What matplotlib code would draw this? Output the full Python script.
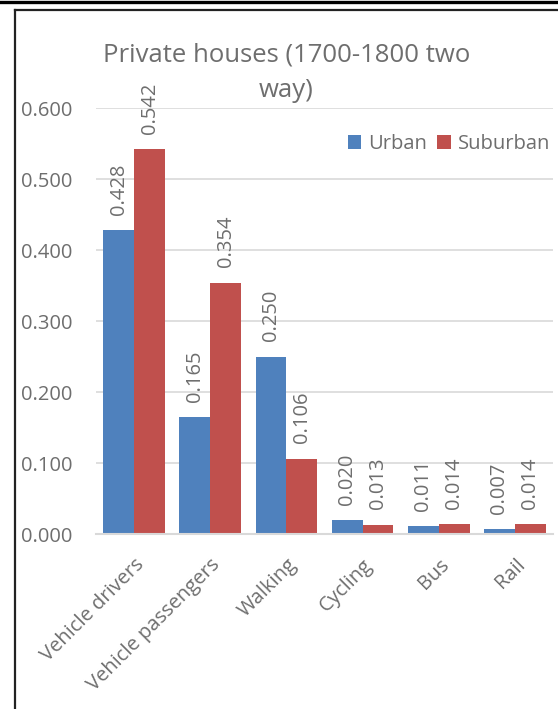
import matplotlib
matplotlib.use("Agg")
import matplotlib.pyplot as plt
from matplotlib.lines import Line2D
import numpy as np

# -----------------------------------------------------------------------------
categories = ["Vehicle drivers", "Vehicle passengers", "Walking", "Cycling", "Bus", "Rail"]
urban = [0.428, 0.165, 0.250, 0.020, 0.011, 0.007]
suburban = [0.542, 0.354, 0.106, 0.013, 0.014, 0.014]
yticks = [0.0, 0.1, 0.2, 0.3, 0.4, 0.5, 0.6]

title_lines = ["Private houses (1700-1800 two", "way)"]
blue = "#4F81BD"
red = "#C0504D"
grey = "#6E6E6E"

plt.rcParams['font.family'] = ['Open Sans', 'DejaVu Sans']

W, H = 558, 709
fig = plt.figure(figsize=(W / 100, H / 100), dpi=100)
ax = fig.add_axes([96 / W, 1 - 534 / H, (553 - 96) / W, (534 - 108) / H])

x = np.arange(len(categories))
bw = 0.405
b1 = ax.bar(x - bw / 2, urban, bw, color=blue, label="Urban", zorder=2)
b2 = ax.bar(x + bw / 2, suburban, bw, color=red, label="Suburban", zorder=2)

# data labels, rotated like the excel ones
for bars, vals in ((b1, urban), (b2, suburban)):
    for b, v in zip(bars, vals):
        ax.annotate("{:.3f}".format(v), (b.get_x() + b.get_width() / 2, v),
                    xytext=(0, 11), textcoords="offset points",
                    rotation=90, ha="center", va="bottom",
                    fontsize=14.5, color=grey, annotation_clip=False)

ax.set_xlim(-0.5, len(categories) - 0.5)
ax.set_ylim(0, 0.6)
ax.set_yticks(yticks)
ax.set_yticklabels(["{:.3f}".format(t) for t in yticks], fontsize=14.5, color=grey)
ax.set_xticks(x)
ax.set_xticklabels(categories, rotation=45, ha="right", rotation_mode="anchor",
                   fontsize=14.5, color=grey)
ax.tick_params(axis="both", length=0)
ax.tick_params(axis="y", pad=17)
ax.tick_params(axis="x", pad=15)
ax.yaxis.grid(True, color="#D9D9D9", linewidth=1.2, zorder=0)
ax.set_axisbelow(True)
for s in ("top", "right", "left"):
    ax.spines[s].set_visible(False)
ax.spines["bottom"].set_color("#D9D9D9")
ax.spines["bottom"].set_linewidth(1.5)

# title in two lines, centred on the chart area
fig.text(286.5 / W, 1 - 62 / H, title_lines[0], ha="center", va="baseline",
         fontsize=18.5, color=grey)
fig.text(286.5 / W, 1 - 97 / H, title_lines[1], ha="center", va="baseline",
         fontsize=18.5, color=grey)

fig.legend(handles=[b1, b2], loc="center right",
           bbox_to_anchor=(550 / W, 1 - 144 / H), ncol=2, frameon=False,
           fontsize=14.5, labelcolor=grey, handlelength=0.65, handleheight=0.65,
           handletextpad=0.35, columnspacing=0.5, borderpad=0, borderaxespad=0)

# the frame of the pasted chart
fig.add_artist(Line2D([0, 1], [1 - 1.5 / H, 1 - 1.5 / H], color="black",
                      linewidth=2.4, transform=fig.transFigure))
fig.add_artist(Line2D([15 / W, 1], [1 - 10 / H, 1 - 10 / H], color="#222222",
                      linewidth=1.6, transform=fig.transFigure))
fig.add_artist(Line2D([15 / W, 15 / W], [0, 1 - 10 / H], color="#222222",
                      linewidth=1.6, transform=fig.transFigure))

fig.savefig("out.png", dpi=100)
